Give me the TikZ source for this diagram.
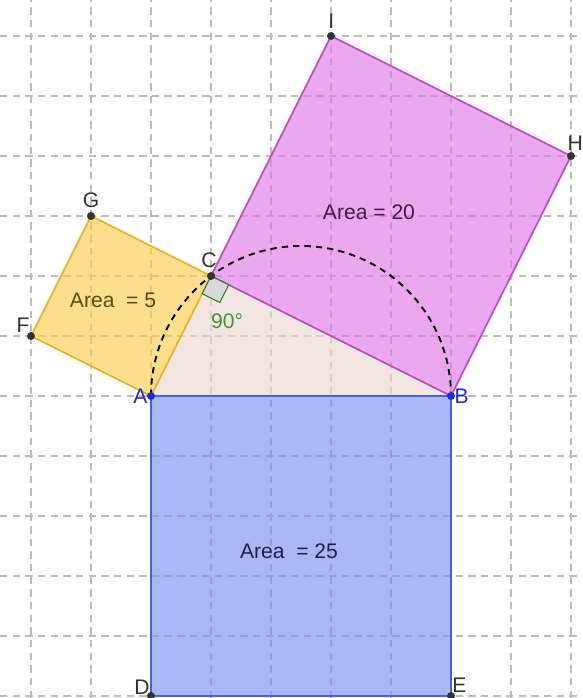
\documentclass[tikz,border=0pt]{standalone}
\usepackage{fontspec}
\setmainfont{Liberation Sans}
\definecolor{gridgray}{HTML}{BDBDBD}
\definecolor{sqyellow}{HTML}{FCCC4E}
\definecolor{sqyellowdk}{HTML}{E3B524}
\definecolor{sqpink}{HTML}{E079E5}
\definecolor{sqpinkdk}{HTML}{BE4AC6}
\definecolor{sqblue}{HTML}{7B92F0}
\definecolor{sqbluedk}{HTML}{4462DE}
\definecolor{triback}{HTML}{EDD9CF}
\definecolor{ptblue}{HTML}{1C2ED0}
\definecolor{anggreen}{HTML}{3C963C}
\definecolor{olivetxt}{HTML}{5A4C12}
\usetikzlibrary{calc,positioning}
\tikzset{
  gridline/.style = {gridgray,line width=0.5pt,dash pattern=on 3.5pt off 2.5pt},
  sqface/.style   = {line width=0.8pt,line join=round,fill opacity=0.65},
  yellowsq/.style = {sqface,draw=sqyellowdk,fill=sqyellow},
  pinksq/.style   = {sqface,draw=sqpinkdk,fill=sqpink},
  bluesq/.style   = {sqface,draw=sqbluedk,fill=sqblue},
  pt/.style       = {circle,fill=black!80,inner sep=0pt,minimum size=3.8pt},
  ptb/.style      = {pt,fill=ptblue},
  lbl/.style      = {font=\fontsize{10}{11}\selectfont,text=black!80,inner sep=0.5pt},
  lblb/.style     = {lbl,text=ptblue},
  arealbl/.style  = {font=\fontsize{10}{12}\selectfont,inner sep=0pt},
}

\begin{document}
\begin{tikzpicture}
  \useasboundingbox (-2.51667,-5.03333) rectangle (7.18333,6.6);
  \draw[gridline] (-2.51667,-5.03333) grid (7.18333,6.6);

  \coordinate (A) at (0,0);
  \coordinate (B) at (5,0);
  \coordinate (C) at (1,2);
  \coordinate (D) at (0,-5);
  \coordinate (E) at (5,-5);
  \coordinate (F) at (-2,1);
  \coordinate (G) at (-1,3);
  \coordinate (H) at (7,4);
  \coordinate (I) at (3,6);

  \fill[triback,fill opacity=0.65] (A) -- (B) -- (C) -- cycle;
  \draw[yellowsq] (A) -- (C) -- (G) -- (F) -- cycle;
  \draw[pinksq] (C) -- (B) -- (H) -- (I) -- cycle;
  \draw[bluesq] (A) -- (B) -- (E) -- (D) -- cycle;

  % right angle at C
  \coordinate (ca) at ($(C)!0.33cm!(A)$);
  \coordinate (cb) at ($(C)!0.33cm!(B)$);
  \coordinate (cc) at ($(ca)+(cb)-(C)$);
  \draw[anggreen!80!black,fill=black!15,line width=0.5pt] (C) -- (ca) -- (cc) -- (cb) -- cycle;
  \node[arealbl,text=anggreen] (ang) at (1.267,1.25) {90°};

  \draw[line width=0.9pt,dash pattern=on 3pt off 2.4pt] (A) arc[start angle=180,end angle=0,radius=2.5];

  \node[arealbl,text=olivetxt] (a5) at (-0.633,1.6) {Area\ \ = 5};
  \node[arealbl,text=sqpinkdk!35!black] (a20) at (3.633,3.067) {Area = 20};
  \node[arealbl,text=sqbluedk!35!black] (a25) at (2.3,-2.583) {Area\ \ = 25};

  \foreach \p in {C,D,E,F,G,H,I} \node[pt] (p\p) at (\p) {};
  \node[ptb] (pA) at (A) {};
  \node[ptb] (pB) at (B) {};

  \node[lbl,above=3pt] at (pG) {G};
  \node[lbl,above left=1pt and 0pt] at (pF) {F};
  \node[lbl,above=3pt,xshift=-1pt] at (pC) {C};
  \node[lbl,above right=3pt and -2pt] at (pI) {I};
  \node[lbl,above=2pt,xshift=2pt] at (pH) {H};
  \node[lbl,above left=0pt and 0pt] at (pD) {D};
  \node[lbl,above right=1pt and 0pt] at (pE) {E};
  \node[lblb,left=1pt] at (pA) {A};
  \node[lblb,right=1pt] at (pB) {B};
\end{tikzpicture}
\end{document}
